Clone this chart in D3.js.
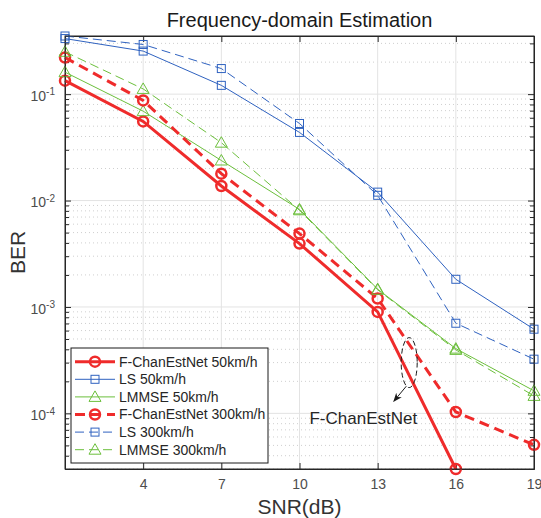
<!DOCTYPE html>
<meta charset="utf-8">
<head>
<style>
  body { margin: 0; background: #fff; }
  text { font-family: "Liberation Sans", Arial, Helvetica, sans-serif; }
</style>
</head>
<body>
<div id="chart"></div>
<script src="https://d3js.org/d3.v7.min.js"></script>
<script>
// SNR points (dB)
var snr = [1, 4, 7, 10, 13, 16, 19];
var xTicks = [4, 7, 10, 13, 16, 19];
var yTicks = [1e-4, 1e-3, 1e-2, 1e-1];

// BER values
var fNet50   = [0.134, 0.0554, 0.0137, 0.00394, 0.000898, 0.00003];
var ls50     = [0.333, 0.254, 0.121, 0.0437, 0.0120, 0.00182, 0.000618];
var lmmse50  = [0.161, 0.0692, 0.0238, 0.00826, 0.00147, 0.000406, 0.000163];
var fNet300  = [0.221, 0.0873, 0.0179, 0.00489, 0.00120, 0.000103, 0.0000506];
var ls300    = [0.352, 0.293, 0.174, 0.053, 0.0112, 0.000703, 0.000323];
var lmmse300 = [0.25, 0.112, 0.035, 0.0081, 0.00145, 0.000395, 0.000146];

var seriesNames = ["F-ChanEstNet 50km/h", "LS 50km/h", "LMMSE 50km/h",
                   "F-ChanEstNet 300km/h", "LS 300km/h", "LMMSE 300km/h"];

var red = "#ef2b2b", blue = "#2f62c0", green = "#6cbf3c";

var series = [
  {name: seriesNames[0], values: fNet50,   color: red,   width: 3,   dash: null,   marker: "circle"},
  {name: seriesNames[1], values: ls50,     color: blue,  width: 1,   dash: null,   marker: "square"},
  {name: seriesNames[2], values: lmmse50,  color: green, width: 1,   dash: null,   marker: "triangle"},
  {name: seriesNames[3], values: fNet300,  color: red,   width: 3,   dash: "10,6", marker: "circle"},
  {name: seriesNames[4], values: ls300,    color: blue,  width: 1,   dash: "9,5",  marker: "square"},
  {name: seriesNames[5], values: lmmse300, color: green, width: 1,   dash: "9,5",  marker: "triangle"}
];

var margin = {top: 36, right: 7, bottom: 49, left: 65},
    W = 541, H = 518,
    width = W - margin.left - margin.right,
    height = H - margin.top - margin.bottom;

var svg = d3.select("#chart").append("svg")
    .attr("width", W).attr("height", H);
var g = svg.append("g")
    .attr("transform", "translate(" + margin.left + "," + margin.top + ")");

var allVals = [].concat(fNet50, ls50, lmmse50, fNet300, ls300, lmmse300);

var x = d3.scaleLinear().domain(d3.extent(snr)).range([0, width]);
var y = d3.scaleLog().domain(d3.extent(allVals)).range([height, 0]);

// minor y values (2..9 x decade) inside domain
var minor = [];
[-5, -4, -3, -2, -1].forEach(function(e) {
  for (var k = 2; k <= 9; k++) {
    var v = k * Math.pow(10, e);
    if (v >= y.domain()[0] && v <= y.domain()[1]) minor.push(v);
  }
});

// grid
g.append("g").selectAll("line").data(minor).enter().append("line")
  .attr("x1", 0).attr("x2", width)
  .attr("y1", function(d) { return y(d); }).attr("y2", function(d) { return y(d); })
  .attr("stroke", "#cfcfcf").attr("stroke-width", 1).attr("stroke-dasharray", "1,3");
g.append("g").selectAll("line").data(yTicks).enter().append("line")
  .attr("x1", 0).attr("x2", width)
  .attr("y1", function(d) { return y(d); }).attr("y2", function(d) { return y(d); })
  .attr("stroke", "#e3e3e3").attr("stroke-width", 1);
g.append("g").selectAll("line").data(xTicks).enter().append("line")
  .attr("y1", 0).attr("y2", height)
  .attr("x1", function(d) { return x(d); }).attr("x2", function(d) { return x(d); })
  .attr("stroke", "#e3e3e3").attr("stroke-width", 1);

// axes (ticks pointing inward, box on)
var axisColor = "#262626";
function styleAxis(sel) {
  sel.select(".domain").attr("stroke", axisColor);
  sel.selectAll(".tick line").attr("stroke", axisColor);
  sel.selectAll(".tick text").attr("fill", "#4d4d4d").style("font-size", "14px");
}

g.append("g").attr("transform", "translate(0," + height + ")")
  .call(d3.axisBottom(x).tickValues(xTicks).tickSizeInner(-6).tickSizeOuter(0).tickPadding(10))
  .call(styleAxis);
g.append("g")
  .call(d3.axisTop(x).tickValues(xTicks).tickSizeInner(-6).tickSizeOuter(0).tickFormat(""))
  .call(styleAxis);

var yAxisL = g.append("g")
  .call(d3.axisLeft(y).tickValues(yTicks).tickSizeInner(-6).tickSizeOuter(0).tickPadding(10))
  .call(styleAxis);
yAxisL.selectAll(".tick text").each(function(d) {
  var t = d3.select(this).text(null).attr("dy", "0.45em");
  t.append("tspan").text("10");
  t.append("tspan").attr("dy", "-0.55em").style("font-size", "10px").text(Math.round(Math.log10(d)));
});
g.append("g")
  .call(d3.axisLeft(y).tickValues(minor).tickSizeInner(-4).tickSizeOuter(0).tickFormat(""))
  .call(styleAxis);
g.append("g").attr("transform", "translate(" + width + ",0)")
  .call(d3.axisRight(y).tickValues(yTicks).tickSizeInner(-6).tickSizeOuter(0).tickFormat(""))
  .call(styleAxis);
g.append("g").attr("transform", "translate(" + width + ",0)")
  .call(d3.axisRight(y).tickValues(minor).tickSizeInner(-4).tickSizeOuter(0).tickFormat(""))
  .call(styleAxis);

// lines
var line = d3.line()
  .x(function(d, i) { return x(snr[i]); })
  .y(function(d) { return y(d); });

function drawMarker(sel, type, color, sw) {
  if (type === "circle") {
    sel.append("circle").attr("r", 5).attr("fill", "none")
      .attr("stroke", color).attr("stroke-width", sw);
  } else if (type === "square") {
    sel.append("rect").attr("x", -4).attr("y", -4).attr("width", 8).attr("height", 8)
      .attr("fill", "none").attr("stroke", color).attr("stroke-width", sw);
  } else {
    sel.append("path").attr("d", "M0,-6L6,4.5L-6,4.5Z")
      .attr("fill", "none").attr("stroke", color).attr("stroke-width", sw);
  }
}

series.forEach(function(s) {
  g.append("path")
    .attr("d", line(s.values))
    .attr("fill", "none")
    .attr("stroke", s.color)
    .attr("stroke-width", s.width)
    .attr("stroke-dasharray", s.dash);
  g.append("g").selectAll("g").data(s.values).enter().append("g")
    .attr("transform", function(d, i) { return "translate(" + x(snr[i]) + "," + y(d) + ")"; })
    .each(function() { drawMarker(d3.select(this), s.marker, s.color, s.width > 1 ? 2.5 : 1); });
});

// annotation: ellipse, arrow, label
var ann = {cx: 14.21, cy: 3.0e-4, rx: 8, ry: 25,
           ax1: 14.1, ay1: 1.8e-4, ax2: 13.62, ay2: 1.3e-4,
           tx: 12.45, ty: 8.0e-5, label: "F-ChanEstNet"};
svg.append("defs").append("marker")
  .attr("id", "arrow").attr("viewBox", "0 0 10 10").attr("refX", 9).attr("refY", 5)
  .attr("markerWidth", 9).attr("markerHeight", 9).attr("orient", "auto")
  .append("path").attr("d", "M0,1L10,5L0,9L3,5Z").attr("fill", "#1a1a1a");
g.append("ellipse")
  .attr("cx", x(ann.cx)).attr("cy", y(ann.cy)).attr("rx", ann.rx).attr("ry", ann.ry)
  .attr("fill", "none").attr("stroke", "#1a1a1a").attr("stroke-width", 1)
  .attr("stroke-dasharray", "5,3");
g.append("line")
  .attr("x1", x(ann.ax1)).attr("y1", y(ann.ay1)).attr("x2", x(ann.ax2)).attr("y2", y(ann.ay2))
  .attr("stroke", "#1a1a1a").attr("stroke-width", 1).attr("marker-end", "url(#arrow)");
g.append("text")
  .attr("x", x(ann.tx)).attr("y", y(ann.ty))
  .attr("text-anchor", "middle").style("font-size", "17px").attr("fill", "#262626")
  .text(ann.label);

// box
g.append("rect").attr("width", width).attr("height", height)
  .attr("fill", "none").attr("stroke", axisColor).attr("stroke-width", 1);

// legend
var lg = svg.append("g").attr("transform", "translate(71,348)");
lg.append("rect").attr("width", 197).attr("height", 115)
  .attr("fill", "#fff").attr("stroke", "#1a1a1a").attr("stroke-width", 1);
series.forEach(function(s, i) {
  var ry = 13.7 + i * 17.6;
  var row = lg.append("g").attr("transform", "translate(0," + ry + ")");
  row.append("line").attr("x1", 4).attr("x2", 44)
    .attr("stroke", s.color).attr("stroke-width", s.width)
    .attr("stroke-dasharray", s.dash);
  drawMarker(row.append("g").attr("transform", "translate(24,0)"), s.marker, s.color, s.width > 1 ? 2.5 : 1);
  row.append("text").attr("x", 48).attr("dy", "0.35em")
    .style("font-size", "14px").attr("fill", "#262626").text(s.name);
});

// titles
svg.append("text")
  .attr("x", margin.left + width / 2).attr("y", 27)
  .attr("text-anchor", "middle").style("font-size", "20px").attr("fill", "#1a1a1a")
  .text("Frequency-domain Estimation");
svg.append("text")
  .attr("x", margin.left + width / 2).attr("y", 514)
  .attr("text-anchor", "middle").style("font-size", "21px").attr("fill", "#333")
  .text("SNR(dB)");
svg.append("text")
  .attr("transform", "translate(25," + (margin.top + height / 2) + ") rotate(-90)")
  .attr("text-anchor", "middle").style("font-size", "21px").attr("fill", "#333")
  .text("BER");
</script>
</body>
